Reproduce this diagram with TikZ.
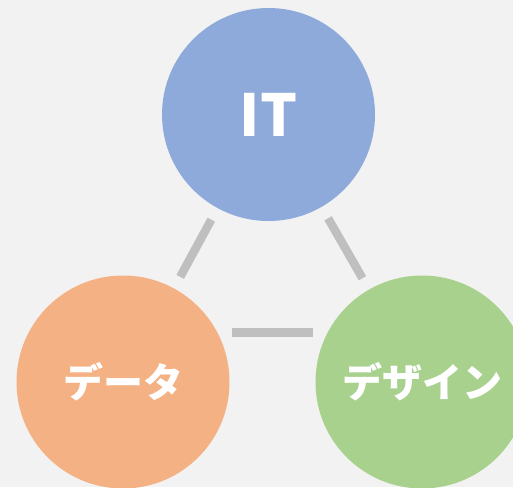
\documentclass[tikz,border=0pt]{standalone}
\usepackage{fontspec}
\setmainfont{Noto Sans CJK JP}
\definecolor{bgc}{HTML}{F2F2F2}
\definecolor{blu}{HTML}{8EAADB}
\definecolor{ora}{HTML}{F4B183}
\definecolor{grn}{HTML}{A9D18E}
\definecolor{lin}{HTML}{BFBFBF}
\begin{document}
\begin{tikzpicture}[x=1pt,y=-1pt,
  bubble/.style={circle,minimum size=213pt,inner sep=0pt,text=white,font=\bfseries\fontsize{40}{40}\selectfont},
  link/.style={draw=lin,line width=8.5pt}]
\fill[bgc] (0,0) rectangle (513,487);
\useasboundingbox (0,0) rectangle (513,487);
\clip (0,0) rectangle (513,487);
\node[bubble,fill=blu,font=\bfseries\fontsize{58}{58}\selectfont] (it) at (268.5,114.5) {IT};
\node[bubble,fill=ora] (data) at (123,382) {データ};
\node[bubble,fill=grn] (design) at (422,382) {デザイン};
\draw[link,shorten <=13pt,shorten >=13pt] (it) -- (data);
\draw[link,shorten <=13pt,shorten >=13pt] (it) -- (design);
\coordinate (bl) at ([shift={(109,-49.5)}]data.center);
\coordinate (br) at ([shift={(-109,-49.5)}]design.center);
\draw[link] (bl) -- (br);
\end{tikzpicture}
\end{document}
